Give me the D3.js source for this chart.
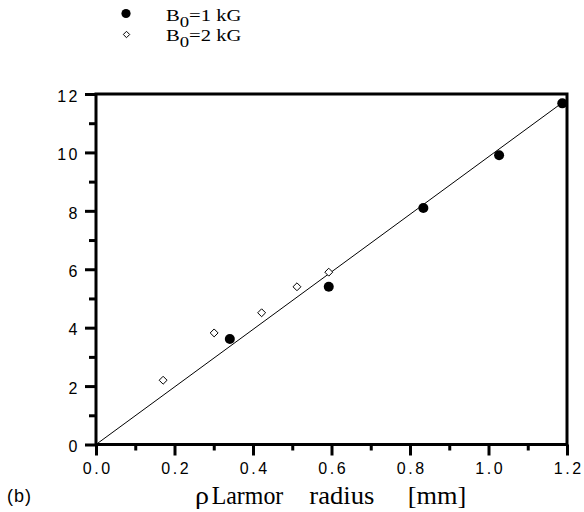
<!DOCTYPE html>
<html>
<head>
<meta charset="utf-8">
<script src="https://cdn.jsdelivr.net/npm/d3@7/dist/d3.min.js"></script>
<style>
  html, body { margin: 0; padding: 0; background: #fff; }
  svg { display: block; }
</style>
</head>
<body>
<svg id="chart" width="584" height="512"></svg>
<script>
// Larmor radius (mm) vs. measured quantity, two field strengths
const radius1kG = [0.341, 0.593, 0.834, 1.027, 1.188];
const value1kG  = [3.61, 5.40, 8.10, 9.90, 11.68];
const radius2kG = [0.171, 0.301, 0.422, 0.512, 0.593];
const value2kG  = [2.20, 3.82, 4.51, 5.40, 5.90];
const fitX = [0, 1.2];
const fitY = [0, 11.82];
const xTicks = [0, 0.2, 0.4, 0.6, 0.8, 1.0, 1.2];
const xMinor = [0.1, 0.3, 0.5, 0.7, 0.9, 1.1];
const yTicks = [0, 2, 4, 6, 8, 10, 12];
const yMinor = [1, 3, 5, 7, 9, 11];
const legendLabels = ["=1 kG", "=2 kG"];
const titleWords = ["ρ", "Larmor", "radius", "[mm]"];

const svg = d3.select("#chart");
const plotLeft = 96, plotRight = 567, plotTop = 94, plotBottom = 444.5;

const x = d3.scaleLinear().domain([0, 1.2]).range([plotLeft, plotRight]);
const y = d3.scaleLinear().domain([0, 12]).range([plotBottom, plotTop]);

const sans = "'Liberation Sans', Arial, Helvetica, sans-serif";
const serif = "'Liberation Serif', 'Times New Roman', serif";

// Frame
svg.append("rect")
  .attr("x", plotLeft).attr("y", plotTop)
  .attr("width", plotRight - plotLeft).attr("height", plotBottom - plotTop)
  .attr("fill", "none").attr("stroke", "#000").attr("stroke-width", 3);

function styleTicks(g, w) {
  g.select(".domain").remove();
  g.selectAll(".tick line").attr("stroke", "#000").attr("stroke-width", w);
}

// X axis
const xAxis = svg.append("g").attr("transform", `translate(0,${plotBottom})`)
  .call(d3.axisBottom(x).tickValues(xTicks).tickSize(11).tickPadding(7)
    .tickFormat(d3.format(".1f")));
styleTicks(xAxis, 3);
xAxis.selectAll("text").attr("font-family", sans).attr("font-size", 16)
  .attr("letter-spacing", "2.5px").attr("dx", "1.2px").attr("fill", "#000");
svg.append("g").attr("transform", `translate(0,${plotBottom})`)
  .call(d3.axisBottom(x).tickValues(xMinor).tickSize(6).tickFormat(""))
  .call(g => styleTicks(g, 3));

// Y axis
const yAxis = svg.append("g").attr("transform", `translate(${plotLeft},0)`)
  .call(d3.axisLeft(y).tickValues(yTicks).tickSize(11).tickPadding(5));
styleTicks(yAxis, 3);
yAxis.selectAll("text").attr("font-family", sans).attr("font-size", 16)
  .attr("letter-spacing", "2.5px").attr("dy", "0.45em").attr("fill", "#000");
svg.append("g").attr("transform", `translate(${plotLeft},0)`)
  .call(d3.axisLeft(y).tickValues(yMinor).tickSize(7).tickFormat(""))
  .call(g => styleTicks(g, 3));

// Linear fit
svg.append("line")
  .attr("x1", x(fitX[0])).attr("y1", y(fitY[0]))
  .attr("x2", x(fitX[1])).attr("y2", y(fitY[1]))
  .attr("stroke", "#000").attr("stroke-width", 1);

// Data: B0 = 2 kG (open diamonds)
const diamond = d3.symbol().type(d3.symbolDiamond2).size(40);
svg.append("g").selectAll("path")
  .data(radius2kG.map((r, i) => [r, value2kG[i]]))
  .join("path")
  .attr("d", diamond)
  .attr("transform", d => `translate(${x(d[0])},${y(d[1])})`)
  .attr("fill", "#fff").attr("stroke", "#000").attr("stroke-width", 1);

// Data: B0 = 1 kG (filled circles)
svg.append("g").selectAll("circle")
  .data(radius1kG.map((r, i) => [r, value1kG[i]]))
  .join("circle")
  .attr("cx", d => x(d[0])).attr("cy", d => y(d[1]))
  .attr("r", 5).attr("fill", "#000");

// Legend
svg.append("circle").attr("cx", 126).attr("cy", 13.5).attr("r", 4.6).attr("fill", "#000");
svg.append("path").attr("d", d3.symbol().type(d3.symbolDiamond2).size(26))
  .attr("transform", "translate(126.5,34.5)")
  .attr("fill", "#fff").attr("stroke", "#000").attr("stroke-width", 1);
legendLabels.forEach((lab, i) => {
  const g = svg.append("g")
    .attr("transform", `translate(166,${20.7 + i * 20}) scale(1.25,1)`);
  const t = g.append("text").attr("x", 0).attr("y", 0)
    .attr("font-family", serif).attr("font-size", 16.5).attr("fill", "#000");
  t.append("tspan").text("B");
  t.append("tspan").attr("font-size", 15).attr("dy", 6).text("0");
  t.append("tspan").attr("dy", -6).text(lab);
});

// Axis title, word by word
const titleX = [195, 211.7, 309.3, 407.7];
const titleW = [14, 71.6, 65, 58.5];
titleWords.forEach((w, i) => {
  svg.append("text").attr("x", titleX[i]).attr("y", 504)
    .attr("font-family", serif).attr("font-size", 25).attr("fill", "#000")
    .attr("textLength", titleW[i]).attr("lengthAdjust", "spacingAndGlyphs")
    .text(w);
});

// Panel label
svg.append("text").attr("x", 7).attr("y", 502)
  .attr("font-family", sans).attr("font-size", 18).attr("fill", "#000")
  .attr("letter-spacing", "1px")
  .text("(b)");
</script>
</body>
</html>
